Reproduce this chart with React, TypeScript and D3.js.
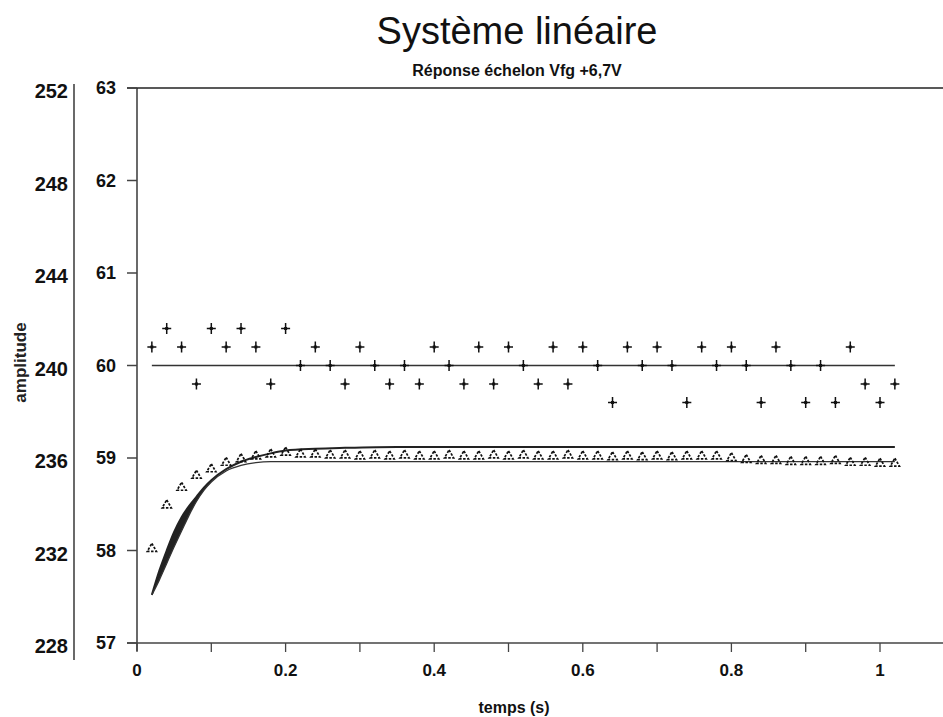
import React from 'react';
import * as d3 from 'd3';

// temps (s)
const temps = [
  0.02, 0.04, 0.06, 0.08, 0.1, 0.12, 0.14, 0.16, 0.18, 0.2,
  0.22, 0.24, 0.26, 0.28, 0.3, 0.32, 0.34, 0.36, 0.38, 0.4,
  0.42, 0.44, 0.46, 0.48, 0.5, 0.52, 0.54, 0.56, 0.58, 0.6,
  0.62, 0.64, 0.66, 0.68, 0.7, 0.72, 0.74, 0.76, 0.78, 0.8,
  0.82, 0.84, 0.86, 0.88, 0.9, 0.92, 0.94, 0.96, 0.98, 1.0, 1.02,
];

// consigne mesurée (+)
const consigne = [
  60.2, 60.4, 60.2, 59.8, 60.4, 60.2, 60.4, 60.2, 59.8, 60.4,
  60.0, 60.2, 60.0, 59.8, 60.2, 60.0, 59.8, 60.0, 59.8, 60.2,
  60.0, 59.8, 60.2, 59.8, 60.2, 60.0, 59.8, 60.2, 59.8, 60.2,
  60.0, 59.6, 60.2, 60.0, 60.2, 60.0, 59.6, 60.2, 60.0, 60.2,
  60.0, 59.6, 60.2, 60.0, 59.6, 60.0, 59.6, 60.2, 59.8, 59.6, 59.8,
];

// réponse mesurée (triangles)
const reponse = [
  58.02, 58.49, 58.68, 58.81, 58.88, 58.95, 58.99, 59.02, 59.04, 59.06,
  59.04, 59.04, 59.03, 59.03, 59.02, 59.03, 59.02, 59.03, 59.02, 59.02,
  59.03, 59.02, 59.02, 59.03, 59.02, 59.03, 59.02, 59.02, 59.03, 59.02,
  59.02, 59.01, 59.02, 59.01, 59.02, 59.01, 59.02, 59.02, 59.02, 59.0,
  58.98, 58.97, 58.97, 58.96, 58.96, 58.96, 58.97, 58.95, 58.95, 58.94, 58.94,
];

// courbes du modèle
const modeleT = [0.02, 0.03, 0.04, 0.05, 0.06, 0.07, 0.08, 0.09, 0.1, 0.12, 0.14, 0.16, 0.18, 0.2, 0.24, 0.28, 0.35, 0.5, 0.75, 1.02];
const modeleA = [57.52, 57.78, 58.0, 58.2, 58.36, 58.48, 58.58, 58.68, 58.76, 58.88, 58.96, 59.01, 59.05, 59.08, 59.1, 59.11, 59.12, 59.12, 59.12, 59.12];
const modeleB = [57.52, 57.68, 57.86, 58.04, 58.21, 58.38, 58.53, 58.65, 58.74, 58.86, 58.92, 58.95, 58.96, 58.96, 58.96, 58.96, 58.96, 58.96, 58.96, 58.96];

const consigneT = [0.02, 1.02];
const consigneV = [60, 60];

const xTicks = [0, 0.2, 0.4, 0.6, 0.8, 1];
const xMinor = [0.1, 0.3, 0.5, 0.7, 0.9];
const yTicks = [57, 58, 59, 60, 61, 62, 63];
const y2Ticks = [228, 232, 236, 240, 244, 248, 252];

const W = 943;
const H = 717;
const font = 'Liberation Sans, Arial, Helvetica, sans-serif';

export default function App() {
  const x = d3.scaleLinear().domain([0, 1]).range([137, 880]);
  const y = d3.scaleLinear().domain([57, 63]).range([643, 88]);
  const y2 = d3.scaleLinear().domain([228, 252]).range([643, 88]);

  const line = d3
    .line<[number, number]>()
    .x(d => x(d[0]))
    .y(d => y(d[1]))
    .curve(d3.curveMonotoneX);

  // zone sombre entre les deux courbes au démarrage
  const wedge = d3
    .area<number>()
    .x(i => x(modeleT[i]))
    .y0(i => y(modeleB[i]))
    .y1(i => y(modeleA[i]))
    .curve(d3.curveMonotoneX);

  const tri = d3.symbol().type(d3.symbolTriangle).size(36)();

  return (
    <svg
      width={W}
      height={H}
      style={{ position: 'absolute', left: 0, top: 0, background: '#fff' }}
      fontFamily={font}
    >
      <rect width={W} height={H} fill="#fff" />
      {/* titres */}
      <text x={517} y={44} textAnchor="middle" fontSize={38} fill="#111">Système linéaire</text>
      <text x={517} y={76} textAnchor="middle" fontSize={16} fontWeight="bold" fill="#111">Réponse échelon Vfg +6,7V</text>

      {/* axe secondaire */}
      <line x1={74} x2={74} y1={84} y2={660} stroke="#444" strokeWidth={1.6} />
      {y2Ticks.map(t => (
        <text key={t} x={68} y={y2(t) + 3} dy="0.35em" textAnchor="end" fontSize={20} fontWeight="bold" fill="#111">{t}</text>
      ))}
      <text transform={`translate(20,${y(60) - 3}) rotate(-90)`} textAnchor="middle" dy="0.35em" fontSize={17} fontWeight="bold" fill="#222">amplitude</text>

      {/* axe principal */}
      <line x1={x(0)} x2={x(0)} y1={y(63)} y2={y(57) + 8} stroke="#444" strokeWidth={1.6} />
      <line x1={127} x2={W} y1={y(63)} y2={y(63)} stroke="#222" strokeWidth={1.5} />
      <line x1={127} x2={W} y1={y(57)} y2={y(57)} stroke="#444" strokeWidth={1.5} />
      {yTicks.map(t => (
        <g key={t}>
          <line x1={127} x2={x(0)} y1={y(t)} y2={y(t)} stroke="#444" strokeWidth={1.5} />
          <text x={116} y={y(t)} dy="0.35em" textAnchor="end" fontSize={18} fontWeight="bold" fill="#111">{t}</text>
        </g>
      ))}
      {xTicks.concat(xMinor).map(t => (
        <line key={t} x1={x(t)} x2={x(t)} y1={y(57)} y2={y(57) + 9} stroke="#444" strokeWidth={1.3} />
      ))}
      {xTicks.map(t => (
        <text key={t} x={x(t)} y={676} textAnchor="middle" fontSize={17} fontWeight="bold" fill="#111">{t}</text>
      ))}
      <text x={514} y={713} textAnchor="middle" fontSize={16} fontWeight="bold" fill="#111">temps (s)</text>

      {/* courbes */}
      <path d={line(consigneT.map((t, i) => [t, consigneV[i]])) || ''} fill="none" stroke="#333" strokeWidth={1.6} />
      <path d={wedge(d3.range(0, 9)) || ''} fill="#222" stroke="none" />
      <path d={line(modeleT.map((t, i) => [t, modeleA[i]])) || ''} fill="none" stroke="#222" strokeWidth={2} />
      <path d={line(modeleT.map((t, i) => [t, modeleB[i]])) || ''} fill="none" stroke="#333" strokeWidth={1.3} />

      {/* points */}
      {temps.map((t, i) => (
        <g key={'c' + i} transform={`translate(${x(t)},${y(consigne[i])})`}>
          <path d="M-4.5,0H4.5M0,-5.5V5.5" stroke="#111" strokeWidth={1.5} />
          <rect x={-1.5} y={-1.5} width={3} height={3} fill="#111" />
        </g>
      ))}
      {temps.map((t, i) => (
        <path key={'r' + i} d={tri || ''} transform={`translate(${x(t)},${y(reponse[i])})`} fill="none" stroke="#111" strokeWidth={1.7} strokeDasharray="2.5,1.5" />
      ))}
    </svg>
  );
}
